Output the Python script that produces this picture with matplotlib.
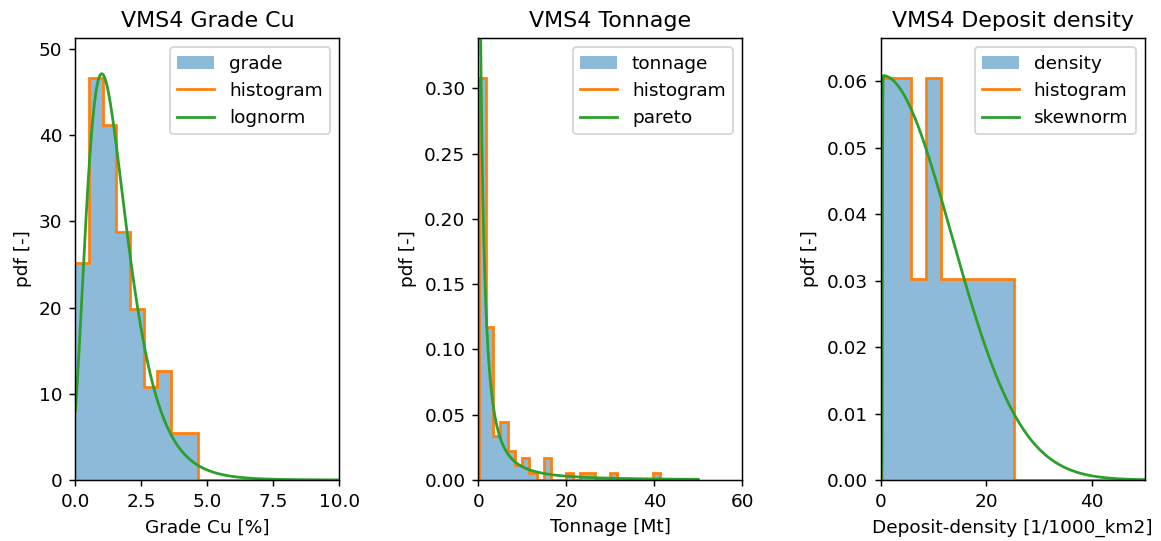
import math
import numpy as np
import matplotlib
matplotlib.use("Agg")
import matplotlib.pyplot as plt

# grade Cu histogram (density), bin edges in %
grade_edges = [0.0, 0.516, 1.033, 1.549, 2.066, 2.582, 3.099, 3.615, 4.132, 4.648]
grade_pdf = [25.2, 46.6, 41.2, 28.8, 19.8, 10.8, 12.6, 5.4, 5.4]
# lognorm fit: shape, loc, scale (pdf scaled x100 for %)
lognorm_params = (0.43, -0.8, 2.16)

# tonnage histogram (density), 25 bins between min and max
tonnage_range = (0.05, 41.4)
tonnage_pdf = [0.3079, 0.1176, 0.0336, 0.0448, 0.0224, 0.0112, 0.0168, 0.0056, 0.0,
               0.0168, 0.0, 0.0, 0.0056, 0.0, 0.0056, 0.0056, 0.0, 0.0, 0.0056,
               0.0, 0.0, 0.0, 0.0, 0.0, 0.0056]
# pareto fit: b, loc, scale
pareto_params = (1.0, -1.45, 1.33)

# deposit density histogram
density_edges = [0.2, 2.97, 5.73, 8.57, 11.4, 14.2, 17.0, 19.7, 22.5, 25.3]
density_pdf = [0.0605, 0.0605, 0.0303, 0.0605, 0.0303, 0.0303, 0.0303, 0.0303, 0.0303]
# skewnorm fit: a, loc, scale
skewnorm_params = (200.0, 0.3, 13.1)

erf = np.vectorize(math.erf)
DPI = 133


def lognorm_pdf(x, s, loc, scale):
    y = np.asarray(x, dtype=float) - loc
    out = np.zeros_like(y)
    ok = y > 0
    out[ok] = np.exp(-np.log(y[ok] / scale) ** 2 / (2 * s ** 2)) / (y[ok] * s * np.sqrt(2 * np.pi))
    return out


def pareto_pdf(x, b, loc, scale):
    z = np.asarray(x, dtype=float) - loc
    out = np.zeros_like(z)
    ok = z >= scale
    out[ok] = b * scale ** b / z[ok] ** (b + 1)
    return out


def skewnorm_pdf(x, a, loc, scale):
    t = (np.asarray(x, dtype=float) - loc) / scale
    phi = np.exp(-t ** 2 / 2) / np.sqrt(2 * np.pi)
    Phi = 0.5 * (1 + erf(a * t / np.sqrt(2)))
    return 2 / scale * phi * Phi


def hist_line(edges, values, xmax):
    """histogram pdf as a step line from 0 to xmax, zero outside the bins"""
    e = list(edges)
    v = list(values)
    if e[0] > 0:
        e = [0.0] + e
        v = [0.0] + v
    e = e + [xmax]
    v = v + [0.0]
    return e, v


def panel(ax, edges, pdf, xs, fit, name, fitname, title, xlabel, xlim, xticks):
    ax.stairs(pdf, edges, fill=True, alpha=0.5, color="C0", label=name)
    e, v = hist_line(edges, pdf, xs[-1])
    ax.stairs(v, e, baseline=None, color="C1", lw=1.5, label="histogram")
    ax.plot(xs, fit, color="C2", label=fitname)
    ax.set_xlim(*xlim)
    ax.set_xticks(xticks)
    ax.set_ylim(0, 1.1 * max(pdf))
    ax.set_title(title)
    ax.set_xlabel(xlabel)
    ax.set_ylabel("pdf [-]")
    ax.legend(loc="upper right")


fig = plt.figure(figsize=(1161 / DPI, 541 / DPI), dpi=DPI)
w, h, b = 0.2274, 0.817, 0.1128
ax1 = fig.add_axes([0.065, b, w, h])
ax2 = fig.add_axes([0.412, b, w, h])
ax3 = fig.add_axes([0.7586, b, w, h])

x1 = np.linspace(0, 10, 1000)
panel(ax1, grade_edges, grade_pdf, x1, 100 * lognorm_pdf(x1, *lognorm_params),
      "grade", "lognorm", "VMS4 Grade Cu", "Grade Cu [%]", (0, 10), [0, 2.5, 5, 7.5, 10])

x2 = np.linspace(0, 50, 2000)
ton_edges = np.linspace(tonnage_range[0], tonnage_range[1], len(tonnage_pdf) + 1)
panel(ax2, ton_edges, tonnage_pdf, x2, pareto_pdf(x2, *pareto_params),
      "tonnage", "pareto", "VMS4 Tonnage", "Tonnage [Mt]", (0, 60), [0, 20, 40, 60])

x3 = np.linspace(0, 50, 1000)
panel(ax3, density_edges, density_pdf, x3, skewnorm_pdf(x3, *skewnorm_params),
      "density", "skewnorm", "VMS4 Deposit density", "Deposit-density [1/1000_km2]",
      (0, 50), [0, 20, 40])

fig.savefig("out.png", dpi=DPI)
